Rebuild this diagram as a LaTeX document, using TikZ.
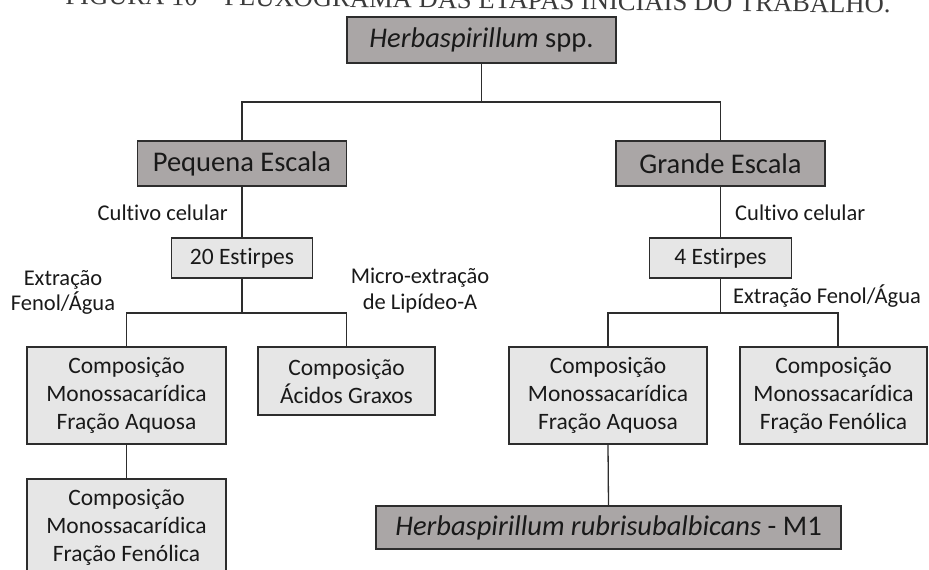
\documentclass[tikz,border=0pt]{standalone}
\usepackage{fontspec}
\setmainfont[Ligatures=NoCommon]{Carlito}
\newfontfamily\titleserif{Liberation Serif}
\definecolor{darkbox}{RGB}{170,166,166}
\definecolor{lightbox}{RGB}{230,230,230}
\definecolor{edgecol}{RGB}{45,45,45}
\definecolor{inkcol}{RGB}{25,25,25}
\tikzset{
  boxbase/.style={draw=edgecol, line width=1.3pt, inner sep=0pt, align=center, text=inkcol},
  bigbox/.style={boxbase, fill=darkbox, font=\fontsize{28.5}{32}\selectfont},
  smallbox/.style={boxbase, fill=lightbox, font=\fontsize{23.5}{28}\selectfont},
  steplabel/.style={inner sep=0pt, text=inkcol, font=\fontsize{22.5}{25}\selectfont},
  link/.style={draw=edgecol, line width=1.3pt}
}
\begin{document}
\begin{tikzpicture}[x=1pt,y=-1pt]
\useasboundingbox (0,0) rectangle (929,570);
% caption line above the chart (partly above the page edge, slightly skewed)
\node[anchor=base, inner sep=0pt, rotate=-0.62, text=inkcol!85, font=\titleserif\fontsize{26.6}{28}\selectfont]
  (caption) at (478,8.5) {FIGURA 10 – FLUXOGRAMA DAS ETAPAS INICIAIS DO TRABALHO.};

% boxes
\node[bigbox, minimum width=269pt, minimum height=46pt] (top) at (481.5,40) {\textit{Herbaspirillum} spp.};
\node[bigbox, minimum width=209pt, minimum height=45pt] (peq) at (242,163.5) {Pequena Escala};
\node[bigbox, minimum width=209pt, minimum height=45pt] (gra) at (720.5,163.5) {Grande Escala};
\node[smallbox, minimum width=141pt, minimum height=40pt] (e20) at (242,258) {20 Estirpes};
\node[smallbox, minimum width=142pt, minimum height=40pt] (e4) at (720.5,258) {4 Estirpes};
\node[smallbox, minimum width=199pt, minimum height=97pt] (aqL) at (126.5,395.5) {Composição\\Monossacarídica\\Fração Aquosa};
\node[smallbox, minimum width=177pt, minimum height=68pt] (acg) at (346.5,381) {Composição\\Ácidos Graxos};
\node[smallbox, minimum width=199pt, minimum height=97pt] (fenL) at (126.5,527.5) {Composição\\Monossacarídica\\Fração Fenólica};
\node[smallbox, minimum width=198pt, minimum height=97pt] (aqR) at (608,395.5) {Composição\\Monossacarídica\\Fração Aquosa};
\node[smallbox, minimum width=187pt, minimum height=97pt] (fenR) at (833.5,395.5) {Composição\\Monossacarídica\\Fração Fenólica};
\node[bigbox, minimum width=465pt, minimum height=43pt] (rub) at (608.5,527.5) {\textit{Herbaspirillum rubrisubalbicans} - M1};

% junction points
\coordinate (j0) at (481.5,102);
\coordinate (jL) at (242,313);
\coordinate (jR) at (720.5,313);
\coordinate (fenRin) at (838,313);

% connectors
\draw[link] (top.south) -- (j0);
\draw[link] (peq.north) |- (j0) -| (gra.north);
\draw[link] (peq.south) -- (e20.north);
\draw[link] (gra.south) -- (e4.north);
\draw[link] (e20.south) -- (jL);
\draw[link] (aqL.north) |- (jL) -| (acg.north);
\draw[link] (aqL.south) -- (fenL.north);
\draw[link] (e4.south) -- (jR);
\draw[link] (aqR.north) |- (jR) -- (fenRin) -- (fenRin |- fenR.north);
\draw[link] (aqR.south) -- (rub.north);

% step labels
\node[steplabel, anchor=base east] (cultL) at (228,220) {Cultivo celular};
\node[steplabel, anchor=base west] (cultR) at (735,220) {Cultivo celular};
\node[steplabel, anchor=base, align=center] (extL) at (63,310) {Extração\\Fenol/Água};
\node[steplabel, anchor=base, align=center, font=\fontsize{22.5}{26}\selectfont] (micro) at (420,309) {Micro-extração\\de Lipídeo-A};
\node[steplabel, anchor=base west] (extR) at (733,303) {Extração Fenol/Água};
\end{tikzpicture}
\end{document}
